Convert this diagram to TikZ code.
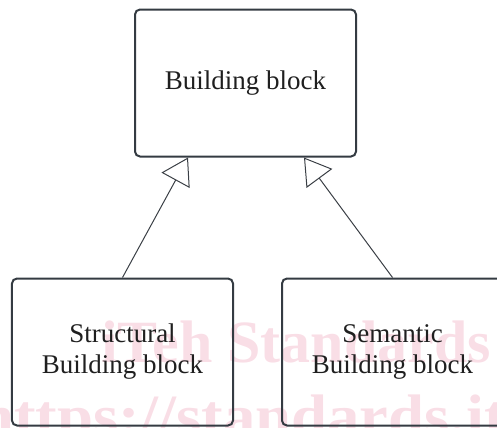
\documentclass[tikz,border=0pt]{standalone}
\usepackage{fontspec}
\setmainfont{Liberation Serif}
\usetikzlibrary{arrows.meta,calc}
\definecolor{boxline}{HTML}{343B42}
\definecolor{wirecol}{HTML}{3A3F45}
\definecolor{txt}{HTML}{1F1F1F}
\definecolor{wmark}{RGB}{249,222,230}
\tikzset{
  block/.style={draw=boxline, line width=2bp, rounded corners=5bp,
    minimum width=221bp, minimum height=147bp, inner sep=0pt,
    align=center, text=txt, font=\fontsize{27bp}{31bp}\selectfont},
  generalize/.style={draw=wirecol, line width=1bp,
    -{Triangle[open, length=26bp, width=32bp, line width=1bp]}},
  wmtext/.style={text=wmark, inner sep=0pt,
    font=\fontsize{60bp}{60bp}\selectfont\bfseries}
}
\begin{document}
\begin{tikzpicture}[x=1bp,y=-1bp]
  \useasboundingbox (0,0) rectangle (497,427);
  % faint background stamp
  \node[wmtext, anchor=base west] (stampA) at (101,362) {iTeh Standards};
  \node[wmtext, anchor=base west, xscale=1.08] (stampB) at (-22,436) {https://standards.iteh.ai};
  % blocks
  \node[block] (bb) at (245.5,83) {Building block};
  \node[block] (sbb) at (122.5,352) {Structural\\Building block};
  \node[block] (mbb) at (392.5,352) {Semantic\\Building block};
  % attachment points on the parent block
  \coordinate (inL) at ($(bb.south west)+(54,0)$);
  \coordinate (inR) at ($(bb.south east)+(-53,0)$);
  \draw[generalize] (sbb.north) -- (inL);
  \draw[generalize] (mbb.north) -- (inR);
\end{tikzpicture}
\end{document}
